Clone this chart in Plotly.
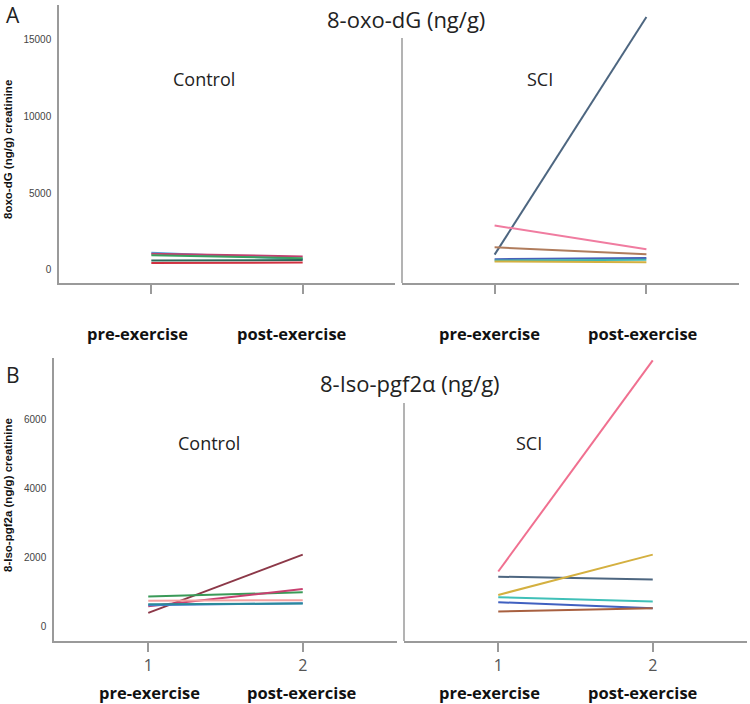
import plotly.graph_objects as go

W, H = 750, 704

time_points = [1, 2]
time_ticktext = ["1", "2"]
phase_labels = ["pre-exercise", "post-exercise"]

# 8-oxo-dG (ng/g) creatinine
oxo_ctrl_pre = [1120, 1060, 960, 610, 450]
oxo_ctrl_post = [720, 880, 760, 650, 480]
oxo_sci_pre = [1000, 2900, 1480, 700, 620, 560]
oxo_sci_post = [16500, 1350, 1020, 780, 660, 500]

# 8-Iso-pgf2a (ng/g) creatinine
iso_ctrl_pre = [380, 855, 570, 730, 600, 630]
iso_ctrl_post = [2070, 975, 1070, 750, 660, 650]
iso_sci_pre = [1580, 1430, 900, 835, 690, 420]
iso_sci_post = [7700, 1350, 2070, 710, 515, 515]

oxo_ticks = [0, 5000, 10000, 15000]
iso_ticks = [0, 2000, 4000, 6000]

oxo_ctrl_colors = ["#4aa8e0", "#c04070", "#3aa060", "#2a6a5a", "#d03040"]
oxo_sci_colors = ["#4d6680", "#f07ca0", "#b07c5c", "#4860b8", "#40b8b0", "#d4b040"]
iso_ctrl_colors = ["#8c3848", "#3a9a58", "#c84070", "#f4a0a0", "#4a80d0", "#2a8a9a"]
iso_sci_colors = ["#f07090", "#4d6680", "#d4b040", "#40c0b8", "#4060c0", "#a86040"]

fig = go.Figure()


def add_lines(pre, post, colors, xa, ya):
    for a, b, c in zip(pre, post, colors):
        fig.add_trace(go.Scatter(x=time_points, y=[a, b], mode="lines",
                                 line=dict(color=c, width=2),
                                 xaxis=xa, yaxis=ya, showlegend=False,
                                 hoverinfo="skip"))


add_lines(oxo_ctrl_pre, oxo_ctrl_post, oxo_ctrl_colors, "x", "y")
add_lines(oxo_sci_pre, oxo_sci_post, oxo_sci_colors, "x2", "y2")
add_lines(iso_ctrl_pre, iso_ctrl_post, iso_ctrl_colors, "x3", "y3")
add_lines(iso_sci_pre, iso_sci_post, iso_sci_colors, "x4", "y4")


def px(x):
    return x / W


def py(y):
    return 1 - y / H


AX = "#9a9a9a"
xr = [0.39, 2.61]
top_dom = [py(283), py(5)]
bot_dom = [py(641), py(358)]


def xaxis(dom, anchor, labels):
    return dict(domain=dom, anchor=anchor, range=xr, showline=True, linecolor=AX,
                linewidth=1.5, ticks="outside", ticklen=9, tickcolor=AX, tickwidth=1.5,
                tickvals=time_points, ticktext=time_ticktext, showticklabels=labels,
                tickfont=dict(family="Open Sans", size=16, color="#555"),
                showgrid=False, zeroline=False, fixedrange=True)


def yaxis(dom, anchor, rng, tickv, labels, line):
    return dict(domain=dom, anchor=anchor, range=rng, showline=line, linecolor=AX,
                linewidth=1.5, ticks="", tickvals=tickv, showticklabels=labels,
                tickformat="d",
                tickfont=dict(family="Liberation Sans, Arial", size=10, color="#444"),
                ticklabelstandoff=4,
                showgrid=False, zeroline=False, fixedrange=True)


oxo_range = [-850, 17280]
iso_range = [-435, 7770]

fig.update_layout(
    width=W, height=H, margin=dict(l=0, r=0, t=0, b=0),
    paper_bgcolor="white", plot_bgcolor="white",
    xaxis=xaxis([px(59), px(395)], "y", False),
    yaxis=yaxis(top_dom, "x", oxo_range, oxo_ticks, True, True),
    xaxis2=xaxis([px(402), px(739)], "y2", False),
    yaxis2=yaxis(top_dom, "x2", oxo_range, oxo_ticks, False, False),
    xaxis3=xaxis([px(54), px(397)], "y3", True),
    yaxis3=yaxis(bot_dom, "x3", iso_range, iso_ticks, True, True),
    xaxis4=xaxis([px(404), px(747)], "y4", True),
    yaxis4=yaxis(bot_dom, "x4", iso_range, iso_ticks, False, False),
)

# right-panel y-axis lines (start below the panel titles)
fig.add_shape(type="line", xref="x2 domain", yref="y2 domain", x0=0, x1=0,
              y0=0, y1=(283 - 38) / (283 - 5), line=dict(color=AX, width=1.5))
fig.add_shape(type="line", xref="x4 domain", yref="y4 domain", x0=0, x1=0,
              y0=0, y1=(641 - 403) / (641 - 358), line=dict(color=AX, width=1.5))

SANS = "Open Sans"


def ann(text, x, y, size, bold=False, color="#222", family=SANS, angle=0):
    t = f"<b>{text}</b>" if bold else text
    fig.add_annotation(text=t, x=px(x), y=py(y), xref="paper", yref="paper",
                       showarrow=False, xanchor="center", yanchor="middle",
                       textangle=angle, font=dict(family=family, size=size, color=color))


ann("A", 13, 15, 21)
ann("B", 13, 375, 21)
ann("8-oxo-dG (ng/g)", 406, 19, 22)
ann("8-Iso-pgf2α (ng/g)", 410, 383, 22)
ann("Control", 204, 79, 18)
ann("SCI", 540, 79, 18)
ann("Control", 209, 443, 18)
ann("SCI", 529, 443, 18)

for (xp, xq, yy) in [(137, 292, 334), (489, 643, 334), (149, 302, 692), (489, 643, 692)]:
    ann(phase_labels[0], xp, yy, 16.5, bold=True, color="#111")
    ann(phase_labels[1], xq, yy, 16.5, bold=True, color="#111")

ann("8oxo-dG (ng/g) creatinine", 8, 150, 11.5, bold=True, color="#111",
    family="Liberation Sans, Arial", angle=-90)
ann("8-Iso-pgf2a (ng/g) creatinine", 8, 495, 11.5, bold=True, color="#111",
    family="Liberation Sans, Arial", angle=-90)

fig.write_html("out.html", config={"displayModeBar": False},
               post_script="document.body.style.margin='0';document.body.style.overflow='hidden';")
